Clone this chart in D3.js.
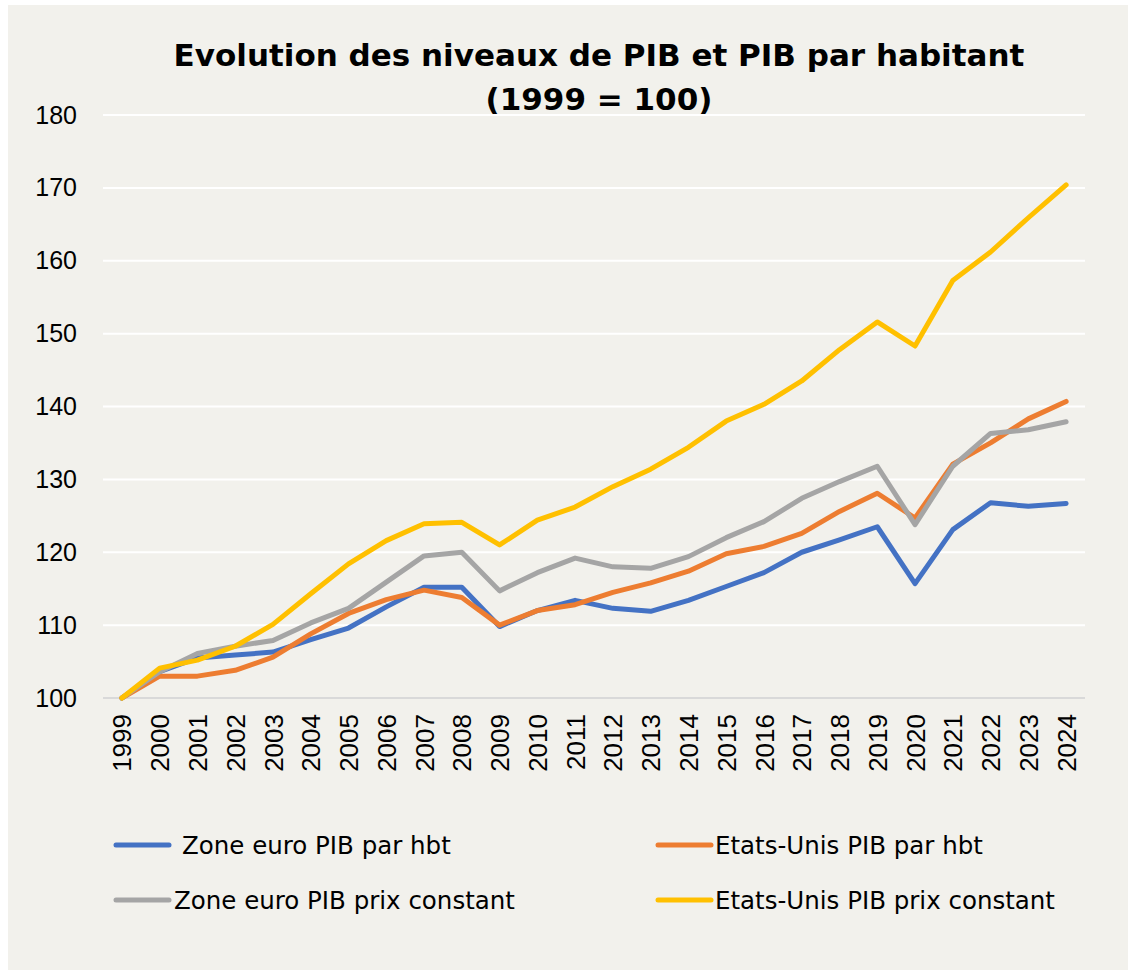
<!DOCTYPE html>
<html>
<head>
<meta charset="utf-8">
<script src="https://cdn.jsdelivr.net/npm/d3@7"></script>
<style>
  body { margin: 0; background: #fff; }
  svg { display: block; }
</style>
</head>
<body>
<svg id="chart"></svg>
<script>
// years on the x axis
const years = ["1999","2000","2001","2002","2003","2004","2005","2006","2007","2008","2009","2010","2011","2012","2013","2014","2015","2016","2017","2018","2019","2020","2021","2022","2023","2024"];

// values (1999 = 100)
const zoneEuroHbt = [100,103.6,105.5,105.9,106.3,108.0,109.6,112.5,115.2,115.2,109.8,112.0,113.4,112.3,111.9,113.4,115.3,117.2,120.0,121.7,123.5,115.7,123.1,126.8,126.3,126.7];
const etatsUnisHbt = [100,103.0,103.0,103.8,105.6,108.8,111.6,113.5,114.8,113.8,110.0,112.0,112.8,114.5,115.8,117.4,119.8,120.8,122.6,125.6,128.1,124.7,132.1,135.0,138.3,140.7];
const zoneEuroConst = [100,103.6,106.1,107.1,107.9,110.3,112.3,115.9,119.5,120.0,114.7,117.2,119.2,118.0,117.8,119.4,122.0,124.2,127.4,129.7,131.8,123.8,131.8,136.3,136.8,137.9];
const etatsUnisConst = [100,104.1,105.2,107.1,110.1,114.3,118.4,121.6,123.9,124.1,121.0,124.4,126.2,129.0,131.4,134.4,138.0,140.3,143.5,147.8,151.6,148.3,157.3,161.2,165.9,170.4];

const yTicks = [100,110,120,130,140,150,160,170,180];

const seriesNames = ["Zone euro PIB par hbt","Etats-Unis PIB par hbt","Zone euro PIB prix constant","Etats-Unis PIB prix constant"];
const seriesColors = ["#4472C4","#ED7D31","#A5A5A5","#FFC000"];
const seriesValues = [zoneEuroHbt, etatsUnisHbt, zoneEuroConst, etatsUnisConst];

const W = 1132, H = 973;
const margin = { left: 103, right: 47, top: 115, bottom: 275 };
const width = W - margin.left - margin.right;
const height = H - margin.top - margin.bottom;

const svg = d3.select("#chart")
	.attr("width", W)
	.attr("height", H);

// panel background
svg.append("rect")
	.attr("x", 8).attr("y", 5)
	.attr("width", W - 12).attr("height", H - 8)
	.attr("fill", "#F2F1EC");

// title
const title = svg.append("text")
	.attr("x", 599)
	.attr("text-anchor", "middle")
	.style("font-family", "'DejaVu Sans', sans-serif")
	.style("font-weight", "bold")
	.style("font-size", "31px")
	.attr("fill", "#000");
title.append("tspan").attr("x", 599).attr("y", 66).text("Evolution des niveaux de PIB et PIB par habitant");
title.append("tspan").attr("x", 599).attr("y", 110).text("(1999 = 100)");

const g = svg.append("g")
	.attr("transform", `translate(${margin.left},${margin.top})`);

const x = d3.scalePoint()
	.domain(years)
	.range([0, width])
	.padding(0.5);

const y = d3.scaleLinear()
	.domain([100, 180])
	.range([height, 0]);

// gridlines
g.append("g")
	.selectAll("line")
	.data(yTicks)
	.enter()
	.append("line")
		.attr("x1", 0)
		.attr("x2", width)
		.attr("y1", d => y(d))
		.attr("y2", d => y(d))
		.attr("stroke", d => d === 100 ? "#D9D9D9" : "#FFFFFF")
		.attr("stroke-width", 2);

// y axis labels
const yAxis = g.append("g")
	.call(d3.axisLeft(y).tickValues(yTicks).tickSize(0).tickPadding(26));
yAxis.select(".domain").remove();
yAxis.selectAll("text")
	.style("font-family", "'Liberation Sans', Arial, sans-serif")
	.style("font-size", "25px")
	.attr("fill", "#000");

// x axis labels, rotated
const xAxis = g.append("g")
	.attr("transform", `translate(0,${height})`)
	.call(d3.axisBottom(x).tickSize(0));
xAxis.select(".domain").remove();
xAxis.selectAll("text")
	.style("font-family", "'Liberation Sans', Arial, sans-serif")
	.style("font-size", "26px")
	.attr("fill", "#000")
	.attr("text-anchor", "end")
	.attr("dy", "0.35em")
	.attr("transform", "translate(0,16) rotate(-90)")
	.attr("y", 0)
	.attr("x", 0);

// lines
const line = d3.line()
	.x((d, i) => x(years[i]))
	.y(d => y(d));

g.selectAll(".series")
	.data(seriesValues)
	.enter()
	.append("path")
		.attr("class", "series")
		.attr("fill", "none")
		.attr("stroke", (d, i) => seriesColors[i])
		.attr("stroke-width", 5)
		.attr("stroke-linejoin", "round")
		.attr("stroke-linecap", "round")
		.attr("d", line);

// legend
const legendPos = [
	{ lx: 116, ty: 845, tx: 182 },
	{ lx: 658, ty: 845, tx: 715 },
	{ lx: 116, ty: 900, tx: 174 },
	{ lx: 658, ty: 900, tx: 715 }
];

const legend = svg.append("g");
const items = legend.selectAll("g")
	.data(seriesNames)
	.enter()
	.append("g");

items.append("line")
	.attr("x1", (d, i) => legendPos[i].lx)
	.attr("x2", (d, i) => legendPos[i].lx + 53)
	.attr("y1", (d, i) => legendPos[i].ty)
	.attr("y2", (d, i) => legendPos[i].ty)
	.attr("stroke", (d, i) => seriesColors[i])
	.attr("stroke-width", 5)
	.attr("stroke-linecap", "round");

items.append("text")
	.attr("x", (d, i) => legendPos[i].tx)
	.attr("y", (d, i) => legendPos[i].ty)
	.attr("dy", "0.35em")
	.style("font-family", "'DejaVu Sans', sans-serif")
	.style("font-size", "24.5px")
	.attr("fill", "#000")
	.text(d => d);
</script>
</body>
</html>
